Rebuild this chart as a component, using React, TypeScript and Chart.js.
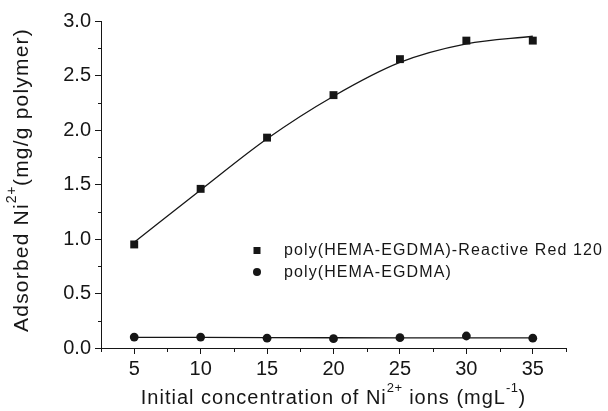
import React, { useEffect, useRef } from 'react';
import { Chart, registerables } from 'chart.js';

Chart.register(...registerables);

// ---- data ----
const concentrations = [5, 10, 15, 20, 25, 30, 35];
const rr120Values = [0.95, 1.46, 1.93, 2.32, 2.65, 2.82, 2.82];
const rr120Fit = [0.97, 1.45, 1.92, 2.31, 2.62, 2.79, 2.86];
const plainValues = [0.1, 0.1, 0.09, 0.086, 0.095, 0.11, 0.09];
const plainFit = [0.098, 0.098, 0.096, 0.094, 0.093, 0.093, 0.092];
const xTickValues = [5, 10, 15, 20, 25, 30, 35];
const yTickValues = [0, 0.5, 1, 1.5, 2, 2.5, 3];
const xMinorTicks = [2.5, 7.5, 12.5, 17.5, 22.5, 27.5, 32.5, 37.5];
const yMinorTicks = [0.25, 0.75, 1.25, 1.75, 2.25, 2.75];
const seriesLabels = ['poly(HEMA-EGDMA)-Reactive Red 120', 'poly(HEMA-EGDMA)'];
const xTitle = [
  { t: 'Initial concentration of Ni' },
  { t: '2+', sup: true },
  { t: ' ions (mgL' },
  { t: '-1', sup: true },
  { t: ')' },
];
const yTitle = [
  { t: 'Adsorbed Ni' },
  { t: '2+', sup: true },
  { t: '(mg/g polymer)' },
];

const FAMILY = '"Liberation Sans", Arial, Helvetica, sans-serif';
const INK = '#161616';

type Seg = { t: string; sup?: boolean };

function drawRich(
  ctx: CanvasRenderingContext2D,
  segs: Seg[],
  size: number,
  supSize: number,
  spacing: number,
  raise: number
) {
  const c: any = ctx;
  let total = 0;
  const widths: number[] = [];
  for (const s of segs) {
    ctx.font = `${s.sup ? supSize : size}px ${FAMILY}`;
    c.letterSpacing = `${s.sup ? spacing * 0.5 : spacing}px`;
    const w = ctx.measureText(s.t).width;
    widths.push(w);
    total += w;
  }
  let x = -total / 2;
  ctx.textAlign = 'left';
  ctx.textBaseline = 'alphabetic';
  ctx.fillStyle = INK;
  segs.forEach((s, i) => {
    ctx.font = `${s.sup ? supSize : size}px ${FAMILY}`;
    c.letterSpacing = `${s.sup ? spacing * 0.5 : spacing}px`;
    ctx.fillText(s.t, x, s.sup ? -raise : 0);
    x += widths[i];
  });
  c.letterSpacing = '0px';
}

const decorPlugin = {
  id: 'decor',
  afterDraw(chart: any) {
    const ctx: CanvasRenderingContext2D = chart.ctx;
    const xs = chart.scales.x;
    const ys = chart.scales.y;
    const area = chart.chartArea;
    ctx.save();
    // minor ticks
    ctx.strokeStyle = INK;
    ctx.lineWidth = 1;
    ctx.beginPath();
    for (const v of xMinorTicks) {
      const px = Math.round(xs.getPixelForValue(v)) + 0.5;
      ctx.moveTo(px, area.bottom);
      ctx.lineTo(px, area.bottom + 4);
    }
    for (const v of yMinorTicks) {
      const py = Math.round(ys.getPixelForValue(v)) + 0.5;
      ctx.moveTo(area.left - 3, py);
      ctx.lineTo(area.left, py);
    }
    ctx.stroke();

    // x title
    ctx.save();
    ctx.translate((area.left + area.right) / 2, 404);
    drawRich(ctx, xTitle, 20, 13, 1, 12);
    ctx.restore();

    // y title
    ctx.save();
    ctx.translate(28, 180);
    ctx.rotate(-Math.PI / 2);
    drawRich(ctx, yTitle, 21, 14, 1.2, 12);
    ctx.restore();

    // legend
    const rows = [250.5, 272];
    const mx = 257;
    ctx.fillStyle = INK;
    ctx.fillRect(mx - 3.5, rows[0] - 3.5, 7, 7);
    ctx.beginPath();
    ctx.arc(mx, rows[1], 4, 0, Math.PI * 2);
    ctx.fill();
    ctx.font = `16px ${FAMILY}`;
    (ctx as any).letterSpacing = '1.1px';
    ctx.textAlign = 'left';
    ctx.textBaseline = 'middle';
    seriesLabels.forEach((lab, i) => ctx.fillText(lab, 284, rows[i] + 0.5));
    (ctx as any).letterSpacing = '0px';
    ctx.restore();
  },
};

export default function App() {
  const ref = useRef<HTMLCanvasElement | null>(null);
  useEffect(() => {
    if (!ref.current) return;
    const toXY = (ys: number[]) => concentrations.map((x, i) => ({ x, y: ys[i] }));
    const chart = new Chart(ref.current, {
      type: 'line',
      data: {
        datasets: [
          {
            label: 'fit-rr120',
            data: toXY(rr120Fit),
            borderColor: INK,
            borderWidth: 1.3,
            pointRadius: 0,
            cubicInterpolationMode: 'monotone',
            fill: false,
          },
          {
            label: 'fit-plain',
            data: toXY(plainFit),
            borderColor: INK,
            borderWidth: 1.3,
            pointRadius: 0,
            tension: 0,
            fill: false,
          },
          {
            label: seriesLabels[0],
            data: toXY(rr120Values),
            showLine: false,
            pointStyle: 'rect',
            pointRadius: 5.6,
            pointBorderWidth: 0,
            pointBackgroundColor: INK,
            borderColor: INK,
          },
          {
            label: seriesLabels[1],
            data: toXY(plainValues),
            showLine: false,
            pointStyle: 'circle',
            pointRadius: 4.4,
            pointBorderWidth: 0,
            pointBackgroundColor: INK,
            borderColor: INK,
          },
        ],
      },
      options: {
        animation: false,
        responsive: false,
        maintainAspectRatio: false,
        layout: { padding: { top: 21, right: 42, left: 0, bottom: 0 } },
        plugins: {
          legend: { display: false },
          tooltip: { enabled: false },
          title: { display: false },
        },
        scales: {
          x: {
            type: 'linear',
            min: 2.5,
            max: 37.5,
            afterBuildTicks: (s: any) => {
              s.ticks = xTickValues.map((v) => ({ value: v }));
            },
            afterFit: (s: any) => {
              s.height = 63;
            },
            grid: {
              display: true,
              drawOnChartArea: false,
              drawTicks: true,
              tickLength: 6,
              color: INK,
              lineWidth: 1,
            },
            border: { display: true, color: INK, width: 1 },
            ticks: {
              color: INK,
              padding: 3,
              maxRotation: 0,
              font: { family: FAMILY, size: 20 },
              callback: (v: any) => String(v),
            },
          },
          y: {
            type: 'linear',
            min: 0,
            max: 3,
            afterBuildTicks: (s: any) => {
              s.ticks = yTickValues.map((v) => ({ value: v }));
            },
            afterFit: (s: any) => {
              s.width = 101;
            },
            grid: {
              display: true,
              drawOnChartArea: false,
              drawTicks: true,
              tickLength: 6,
              color: INK,
              lineWidth: 1,
            },
            border: { display: true, color: INK, width: 1 },
            ticks: {
              color: INK,
              padding: 4,
              font: { family: FAMILY, size: 20 },
              callback: (v: any) => Number(v).toFixed(1),
            },
          },
        },
      },
      plugins: [decorPlugin],
    } as any);
    return () => chart.destroy();
  }, []);
  return (
    <div style={{ position: 'fixed', left: 0, top: 0, width: 608, height: 411, background: '#fff' }}>
      <canvas ref={ref} width={608} height={411} style={{ display: 'block', width: 608, height: 411 }} />
    </div>
  );
}
